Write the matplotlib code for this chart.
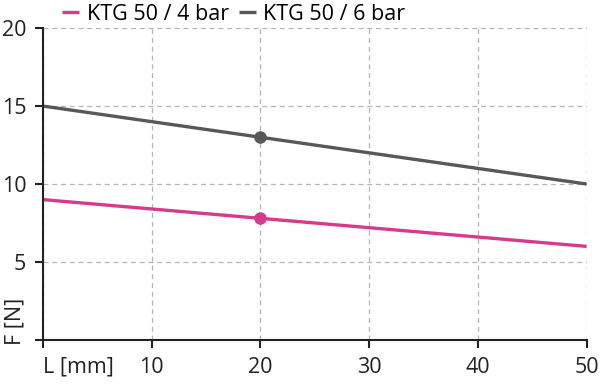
import matplotlib.pyplot as plt

plt.rcParams["font.family"] = ["Open Sans", "DejaVu Sans"]

length_mm = [0, 20, 50]
force_4bar = [9.0, 7.8, 6.0]
force_6bar = [15.0, 13.0, 10.0]
marker_x = 20
labels = ["KTG 50 / 4 bar", "KTG 50 / 6 bar"]
x_ticks = [0, 10, 20, 30, 40, 50]
x_tick_labels = ["L [mm]", "10", "20", "30", "40", "50"]
y_ticks = [0, 5, 10, 15, 20]
y_tick_labels = ["", "5", "10", "15", "20"]

PINK = "#d9398a"
GRAY = "#58585a"
INK = "#222222"
FS = 15.5

fig = plt.figure(figsize=(6, 3.85), dpi=100)
ax = fig.add_axes([0.0717, 0.117, 0.906, 0.81])

for ys, color, label in [(force_4bar, PINK, labels[0]), (force_6bar, GRAY, labels[1])]:
    ax.plot(length_mm, ys, color=color, lw=2.4, label=label, solid_capstyle="butt")
    ax.plot([marker_x], [ys[length_mm.index(marker_x)]], "o", color=color, ms=8)

ax.set_xlim(0, 50)
ax.set_ylim(0, 20)
ax.set_xticks(x_ticks)
ax.set_xticklabels(x_tick_labels)
ax.set_yticks(y_ticks)
ax.set_yticklabels(y_tick_labels)
ax.tick_params(labelsize=FS, colors=INK, length=6, width=1.5, direction="out")
ax.tick_params(axis="y", pad=6)
ax.tick_params(axis="x", pad=6)
for lbl in ax.get_xticklabels():
    lbl.set_ha("left" if lbl.get_text() == "L [mm]" else "center")
for side in ("top", "right"):
    ax.spines[side].set_visible(False)
for side in ("left", "bottom"):
    ax.spines[side].set_linewidth(1.5)
    ax.spines[side].set_color(INK)
ax.grid(True, color="#b5b5b5", ls=(0, (4, 3)), lw=0.9)
ax.set_axisbelow(True)

fig.text(0.008, 0.105, "F [N]", rotation=90, ha="left", va="bottom",
         fontsize=FS, color=INK)

ax.legend(loc="lower left", bbox_to_anchor=(0.035, 1.01), ncol=2, frameon=False,
          fontsize=FS, handlelength=0.8, handletextpad=0.35, columnspacing=0.45,
          borderaxespad=0, borderpad=0)

fig.savefig("out.png", dpi=100)
